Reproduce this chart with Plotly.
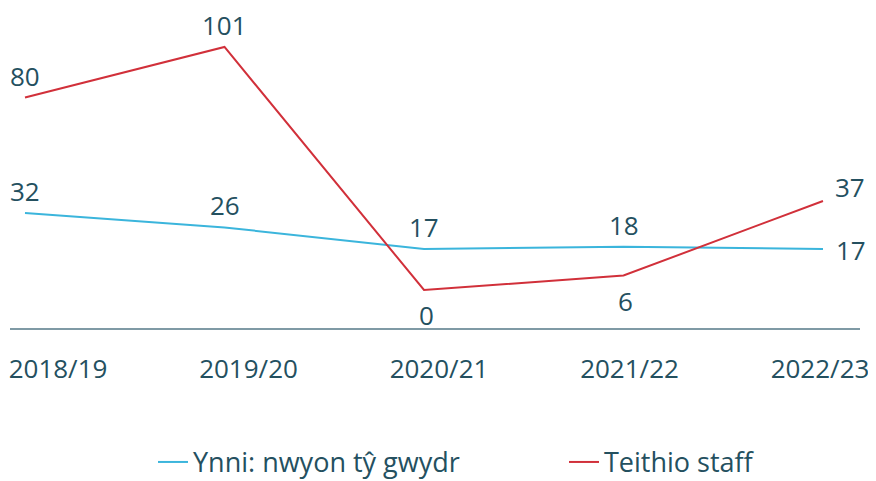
import plotly.graph_objects as go

categories = ["2018/19", "2019/20", "2020/21", "2021/22", "2022/23"]
ynni = [32, 26, 17, 18, 17]
teithio = [80, 101, 0, 6, 37]
ynni_name = "Ynni: nwyon tŷ gwydr"
teithio_name = "Teithio staff"

# label placement per point (style only): "above", "below", "right"
ynni_pos = ["above", "above", "above", "above", "right"]
teithio_pos = ["above", "above", "below", "below", "upright"]

BLUE = "#3bb5dc"
RED = "#d1303a"
TXT = "#24505f"
FONT = "Open Sans"
W, H = 868, 473  # page body adds an 8px margin

idx = list(range(len(categories)))
SHIFT = {"above": (0, 22), "below": (2, -25), "right": (28, -1), "upright": (27, 14)}

fig = go.Figure()
fig.add_trace(go.Scatter(
    x=idx, y=ynni, name=ynni_name, mode="lines",
    line=dict(color=BLUE, width=2), legend="legend",
))
fig.add_trace(go.Scatter(
    x=idx, y=teithio, name=teithio_name, mode="lines",
    line=dict(color=RED, width=2), legend="legend2",
))
# invisible trace to carry the category tick labels on a second axis
fig.add_trace(go.Scatter(x=categories, y=[None]*len(categories), xaxis="x2",
                         showlegend=False, hoverinfo="skip"))

for series, poss in ((ynni, ynni_pos), (teithio, teithio_pos)):
    for i, (v, p) in enumerate(zip(series, poss)):
        dx, dy = SHIFT[p]
        fig.add_annotation(x=i, y=v, xref="x", yref="y", text=str(v), showarrow=False,
                           xshift=dx, yshift=dy, xanchor="center", yanchor="middle",
                           font=dict(family=FONT, size=26, color=TXT))

dom = [2/W, 852/W]
leg_common = dict(orientation="h", yanchor="middle", y=-0.42, xanchor="left",
                  font=dict(family=FONT, size=27, color=TXT), bgcolor="rgba(0,0,0,0)")
fig.update_layout(
    width=W, height=H,
    margin=dict(l=0, r=0, t=0, b=153, autoexpand=False),
    paper_bgcolor="white", plot_bgcolor="white",
    font=dict(family=FONT, size=26, color=TXT),
    xaxis=dict(domain=dom, range=[-0.0752, 4.1855], showgrid=False, zeroline=False, automargin=False,
               showticklabels=False, showline=True, linecolor="#7f9aa5", linewidth=1.5),
    xaxis2=dict(domain=dom, range=[-0.252, 4.21], overlaying="x", side="bottom",
                type="category", showgrid=False, zeroline=False, showline=False, automargin=False,
                ticks="outside", ticklen=18, tickcolor="rgba(0,0,0,0)",
                tickfont=dict(family=FONT, size=26, color=TXT)),
    yaxis=dict(range=[-15.8, 117.2], showgrid=False, zeroline=False, automargin=False,
               showticklabels=False, showline=False),
    legend=dict(x=145/W, **leg_common),
    legend2=dict(x=556/W, **leg_common),
    showlegend=True,
)
fig.write_html("out.html")
